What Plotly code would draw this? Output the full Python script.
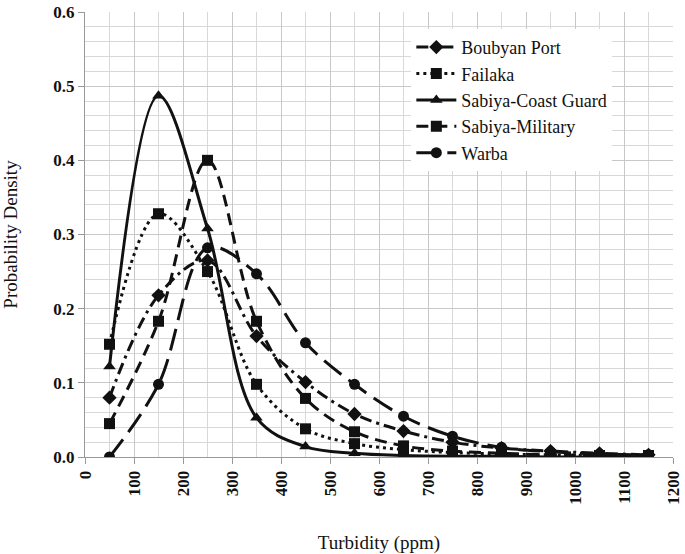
import plotly.graph_objects as go

turbidity = [50, 150, 250, 350, 450, 550, 650, 750, 850, 950, 1050, 1150]

boubyan_port = [0.080, 0.218, 0.265, 0.163, 0.101, 0.058, 0.035, 0.020, 0.012, 0.008, 0.005, 0.003]
failaka = [0.152, 0.328, 0.250, 0.098, 0.038, 0.018, 0.010, 0.006, 0.004, 0.003, 0.002, 0.001]
sabiya_coast_guard = [0.122, 0.487, 0.308, 0.053, 0.014, 0.005, 0.002, 0.001, 0.001, 0.000, 0.000, 0.000]
sabiya_military = [0.045, 0.183, 0.400, 0.183, 0.079, 0.034, 0.015, 0.008, 0.005, 0.003, 0.002, 0.002]
warba = [0.000, 0.098, 0.282, 0.247, 0.154, 0.098, 0.055, 0.028, 0.013, 0.007, 0.004, 0.003]

series = [
    ("Boubyan Port", boubyan_port, "diamond", "12px,5px,3px,5px", 11),
    ("Failaka", failaka, "square", "3px,4px", 11),
    ("Sabiya-Coast Guard", sabiya_coast_guard, "triangle-up", "solid", 11),
    ("Sabiya-Military", sabiya_military, "square", "12px,7px", 11),
    ("Warba", warba, "circle", "22px,9px", 11),
]

x_ticks = list(range(0, 1201, 100))
y_ticks = [0.0, 0.1, 0.2, 0.3, 0.4, 0.5, 0.6]

fig = go.Figure()
for name, vals, sym, dash, msize in series:
    fig.add_trace(go.Scatter(
        x=turbidity, y=vals, name=name, mode="lines+markers",
        line=dict(color="#111111", width=3, dash=dash, shape="spline", smoothing=1.0),
        marker=dict(symbol=sym, size=msize, color="#111111"),
    ))

font_serif = "Liberation Serif"
legend_font = "Times New Roman, Liberation Serif, DejaVu Serif, serif"

fig.update_layout(
    width=685, height=554,
    margin=dict(l=85, r=12, t=12, b=97),
    paper_bgcolor="white", plot_bgcolor="white",
    font=dict(family=font_serif, color="#111111"),
    showlegend=True,
    legend=dict(
        x=0.555, y=0.962, xanchor="left", yanchor="top",
        bgcolor="white", borderwidth=0,
        font=dict(family=legend_font, size=18, color="#111111", weight="normal"),
        itemwidth=40, tracegroupgap=2,
    ),
    xaxis=dict(
        range=[0, 1200], tickvals=x_ticks, ticktext=[str(v) for v in x_ticks],
        tickangle=-90, tickfont=dict(family=font_serif, size=17, color="#111111", weight="bold"),
        showgrid=True, gridcolor="#c8c8c8", gridwidth=1,
        minor=dict(dtick=50, showgrid=True, gridcolor="#d8d8d8", gridwidth=1),
        ticks="outside", ticklen=6, tickcolor="#999999",
        showline=True, linecolor="#999999", linewidth=1, zeroline=False,
        automargin=False,
        title=dict(text="Turbidity (ppm)", font=dict(family=font_serif, size=19, color="#111111"), standoff=32),
    ),
    yaxis=dict(
        range=[0, 0.6], tickvals=y_ticks, ticktext=["%.1f" % v for v in y_ticks],
        tickfont=dict(family=font_serif, size=17, color="#111111", weight="bold"),
        showgrid=True, gridcolor="#c8c8c8", gridwidth=1,
        minor=dict(dtick=0.02, showgrid=True, gridcolor="#d8d8d8", gridwidth=1),
        ticks="outside", ticklen=6, tickcolor="#999999",
        showline=True, linecolor="#999999", linewidth=1, zeroline=False,
        automargin=False,
        title=dict(text="Probability Density", font=dict(family=font_serif, size=19, color="#111111"), standoff=30),
    ),
)

fig.write_html(
    "out.html",
    config={"displayModeBar": False},
    post_script="document.body.style.margin='0px';document.body.style.padding='0px';",
)
